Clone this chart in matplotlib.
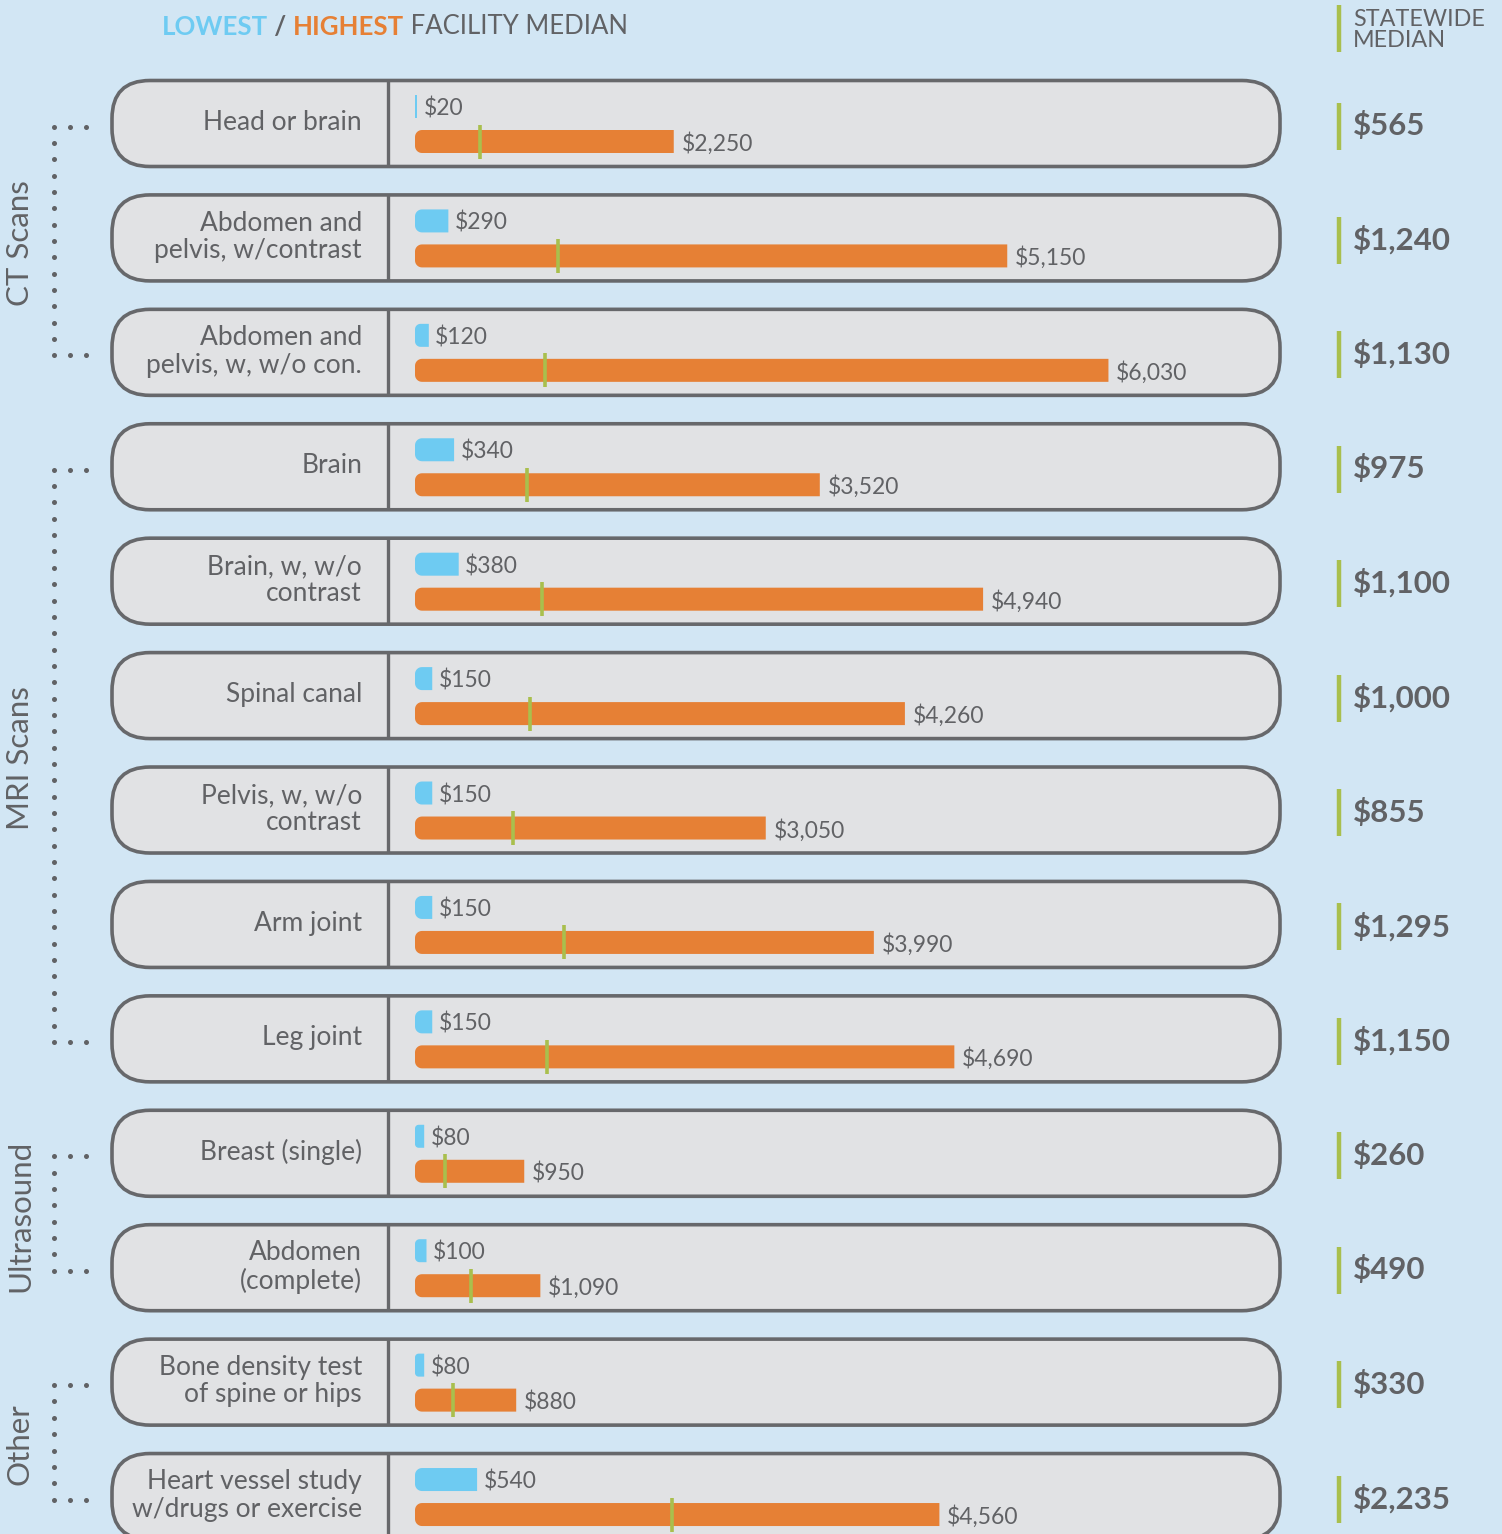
import matplotlib
matplotlib.use('Agg')
import matplotlib.pyplot as plt
from matplotlib.patches import FancyBboxPatch, Rectangle, Polygon
import numpy as np

# ---------------- data ----------------
categories = ["Head or brain", "Abdomen and\npelvis, w/contrast", "Abdomen and\npelvis, w, w/o con.",
              "Brain", "Brain, w, w/o\ncontrast", "Spinal canal", "Pelvis, w, w/o\ncontrast",
              "Arm joint", "Leg joint", "Breast (single)", "Abdomen\n(complete)",
              "Bone density test\nof spine or hips", "Heart vessel study\nw/drugs or exercise"]
groups = ["CT Scans", "MRI Scans", "Ultrasound", "Other"]
group_first = [0, 3, 9, 11]
group_last = [2, 8, 10, 12]
lowest = [20, 290, 120, 340, 380, 150, 150, 150, 150, 80, 100, 80, 540]
highest = [2250, 5150, 6030, 3520, 4940, 4260, 3050, 3990, 4690, 950, 1090, 880, 4560]
statewide = [565, 1240, 1130, 975, 1100, 1000, 855, 1295, 1150, 260, 490, 330, 2235]

# ---------------- style ----------------
BG = '#d2e6f4'
BOX = '#e1e2e4'
EDGE = '#67686b'
TXT = '#616265'
BLUE = '#6ecbf2'
ORANGE = '#e68035'
GREEN = '#a9bf4d'
FONT = 'Lato'
plt.rcParams['font.family'] = [FONT, 'DejaVu Sans']

W, H = 1502, 1534
ROW0, STEP = 123.5, 114.42          # pixel centre of first row, spacing
PX_PER_DOLLAR = 0.115
BAR_X0 = 415

fig = plt.figure(figsize=(W / 100, H / 100), dpi=100, facecolor=BG)
ax0 = fig.add_axes([0, 0, 1, 1])
ax0.set_xlim(0, W)
ax0.set_ylim(H, 0)
ax0.axis('off')
ax0.set_facecolor(BG)

n = len(categories)
centers = [ROW0 + STEP * i for i in range(n)]

# boxes, dividers, labels
for i, cy in enumerate(centers):
    bx0, bx1, bh = 112, 1280, 86
    box = FancyBboxPatch((bx0, cy - bh / 2), bx1 - bx0, bh,
                         boxstyle="round,pad=0,rounding_size=38",
                         facecolor=BOX, edgecolor=EDGE, linewidth=2.6, zorder=1)
    ax0.add_patch(box)
    ax0.plot([388, 388], [cy - bh / 2, cy + bh / 2], color=EDGE, lw=2.4, zorder=2,
             solid_capstyle='butt')
    ax0.text(362, cy - 1, categories[i], ha='right', va='center', fontsize=19,
             color=TXT, linespacing=1.12, zorder=3)
    # statewide median column
    ax0.plot([1339, 1339], [cy - 21, cy + 26], color=GREEN, lw=3.2, zorder=2,
             solid_capstyle='butt')
    ax0.text(1353, cy + 2, f"${statewide[i]:,}", ha='left', va='center', fontsize=22.5,
             fontweight='bold', color=TXT, zorder=3)

# header right
ax0.plot([1339, 1339], [5, 52], color=GREEN, lw=3.2, solid_capstyle='butt')
ax0.text(1353, 30, "STATEWIDE\nMEDIAN", ha='left', va='center', fontsize=16.8,
         color=TXT, linespacing=1.0)

# legend header
r = fig.canvas.get_renderer()
parts = [("LOWEST", BLUE, 'bold'), (" / ", TXT, 'bold'),
         ("HIGHEST", ORANGE, 'bold'), (" FACILITY MEDIAN", TXT, 'normal')]
x = 162
for s, c, w in parts:
    t = ax0.text(x, 27, s, color=c, fontweight=w, fontsize=18.5, va='center', ha='left')
    bb = t.get_window_extent(renderer=r)
    x += bb.width

# group labels and dotted brackets
for g, f, l in zip(groups, group_first, group_last):
    y0, y1 = centers[f] + 3, centers[l] + 3
    ax0.text(20, (y0 + y1) / 2 + 2, g, rotation=90, ha='center', va='center',
             fontsize=22.5, color=TXT)
    ys = np.linspace(y0, y1, max(2, int(round((y1 - y0) / 16.5)) + 1))
    ax0.scatter(np.full_like(ys, 54), ys, s=13, color=TXT, lw=0, zorder=3)
    for yy in (y0, y1):
        ax0.scatter([70, 86], [yy, yy], s=13, color=TXT, lw=0, zorder=3)

# ---------------- bars axes (data coords) ----------------
left_frac = BAR_X0 / W
axb = fig.add_axes([left_frac, 0, 1 - left_frac, 1])
axb.set_xlim(0, (W - BAR_X0) / PX_PER_DOLLAR)
axb.set_ylim((H - ROW0) / STEP, -ROW0 / STEP)
axb.axis('off')
axb.patch.set_alpha(0)

y_per_px = 1 / STEP
x_per_px = 1 / PX_PER_DOLLAR
bar_h_px = 23
bar_h = bar_h_px * y_per_px
rad_px = 7


def rounded_left_bar(y, value, color):
    """Bar from 0 to value (data units) with rounded left corners, square right end."""
    w_px = value * PX_PER_DOLLAR
    rr = min(rad_px, w_px / 2.5)
    top = y - bar_h / 2
    bot = y + bar_h / 2
    pts = [(value, top)]
    if rr >= 2:
        th = np.linspace(-np.pi / 2, -np.pi, 10)
        cx, cyt, cyb = rr * x_per_px, top + rr * y_per_px, bot - rr * y_per_px
        for a in th:
            pts.append((cx + rr * np.cos(a) * x_per_px, cyt + rr * np.sin(a) * y_per_px))
        for a in th[::-1]:
            pts.append((cx + rr * np.cos(a) * x_per_px, cyb - rr * np.sin(a) * y_per_px))
    else:
        pts += [(0, top), (0, bot)]
    pts.append((value, bot))
    axb.add_patch(Polygon(pts, closed=True, facecolor=color, edgecolor='none', zorder=3))


for i in range(n):
    yb = i - 17 * y_per_px
    yo = i + 18 * y_per_px
    rounded_left_bar(yb, lowest[i], BLUE)
    rounded_left_bar(yo, highest[i], ORANGE)
    axb.plot([statewide[i], statewide[i]], [yo - 17 * y_per_px, yo + 17 * y_per_px],
             color=GREEN, lw=2.6, zorder=4, solid_capstyle='butt')
    axb.annotate(f"${lowest[i]:,}", (lowest[i], yb), xytext=(4.5, 0),
                 textcoords='offset points', ha='left', va='center_baseline',
                 fontsize=16.5, color=TXT)
    axb.annotate(f"${highest[i]:,}", (highest[i], yo), xytext=(5.5, 0),
                 textcoords='offset points', ha='left', va='center_baseline',
                 fontsize=16.5, color=TXT)

fig.savefig('out.png', dpi=100, facecolor=BG)
